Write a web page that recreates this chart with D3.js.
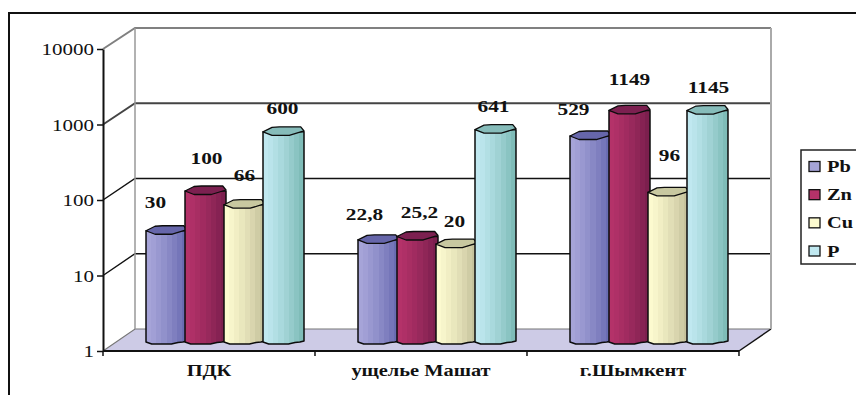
<!DOCTYPE html>
<html>
<head>
<meta charset="utf-8">
<script src="https://cdn.jsdelivr.net/npm/d3@7"></script>
<style>
html,body{margin:0;padding:0;background:#fff;overflow:hidden}
svg{display:block}
text{font-family:"Liberation Serif",serif;fill:#111}
</style>
</head>
<body>
<svg id="chart" width="856" height="395"></svg>
<script>
// Metal concentrations by site, logarithmic axis
const categories = ["ПДК", "ущелье Машат", "г.Шымкент"];
const seriesNames = ["Pb", "Zn", "Cu", "P"];
const Pb = [30, 22.8, 529];
const Zn = [100, 25.2, 1149];
const Cu = [66, 20, 96];
const P = [600, 641, 1145];
const valueLabels = [["30", "22,8", "529"], ["100", "25,2", "1149"], ["66", "20", "96"], ["600", "641", "1145"]];
const axisTicks = [1, 10, 100, 1000, 10000];

// Light and dark ends of each cylinder's shading, plus the lid colour
const shades = [["#a6a4d8", "#6a6cb2", "#6666aa"], ["#b43269", "#7c1f4e", "#7c2050"], ["#fcfacf", "#c6c29c", "#c8c8a0"], ["#c0e8f0", "#7fbcb8", "#86bcba"]];
// Data labels sit off the bar centre, in pixels from the lid: series by site
const labelNudge = [
  [[-11, -29], [-14, -26], [-17, -27]],
  [[1, -33], [2, -24], [0, -31]],
  [[0, -30], [-2, -23], [1, -37]],
  [[-1, -24], [-2, -24], [1, -24]]
];

const values = [Pb, Zn, Cu, P];
const svg = d3.select("#chart");
const defs = svg.append("defs");

// Chart geometry: front plane, and the wall set back by the depth offset
const frontLeft = 103, frontRight = 739, frontBottom = 351, frontTop = 49;
const depthX = 32, depthY = 22;
const y = d3.scaleLog().domain([1, 10000]).range([frontBottom, frontTop]);
const yBack = d3.scaleLog().domain([1, 10000]).range([frontBottom - depthY, frontTop - depthY + 1]);
const yBar = d3.scaleLog().domain([1, 10000]).range([343, 39]);
const x0 = d3.scaleBand().domain(categories).range([frontLeft, frontRight]).paddingInner(0.2547).paddingOuter(0.1274);
const x1 = d3.scaleBand().domain(seriesNames).range([0, x0.bandwidth() - 2]);
const barShift = 16;

// Outer frame, open on the right and at the bottom
svg.append("path").attr("d", "M9,395V13H856").attr("fill", "none").attr("stroke", "#111").attr("stroke-width", 2);

// Floor: grey back and left edges, dark right edge
const floorBL = [frontLeft, frontBottom], floorTL = [frontLeft + depthX, frontBottom - depthY];
const floorTR = [frontRight + depthX, frontBottom - depthY], floorBR = [frontRight, frontBottom];
svg.append("path").attr("d", d3.line()([floorBL, floorTL, floorTR, floorBR]) + "Z").attr("fill", "#cdcbe6");
svg.append("path").attr("d", d3.line()([floorBL, floorTL, floorTR])).attr("fill", "none").attr("stroke", "#777").attr("stroke-width", 1.2);
svg.append("path").attr("d", d3.line()([floorTR, floorBR])).attr("fill", "none").attr("stroke", "#111").attr("stroke-width", 1.5);

// Back wall gridlines with their slanted returns on the side wall
const gridColour = d => d === 10000 ? "#808080" : d === 1000 ? "#444" : "#111";
const grid = svg.append("g").attr("fill", "none");
grid.selectAll("path").data(axisTicks.slice(1)).join("path")
  .attr("d", d => d3.line()([[frontLeft, y(d)], [frontLeft + depthX, yBack(d)], [frontRight + depthX, yBack(d)]]))
  .attr("stroke", gridColour)
  .attr("stroke-width", d => d >= 1000 ? 2 : 1.5);
grid.append("path").attr("d", `M${frontLeft + depthX},${yBack(10000)}V${yBack(1)}`).attr("stroke", "#999").attr("stroke-width", 1.5);
grid.append("path").attr("d", `M${frontRight + depthX},${yBack(10000)}V${yBack(1)}`).attr("stroke", "#aaa").attr("stroke-width", 2);

// Stepped shading for the cylinders
seriesNames.forEach((name, i) => {
  const mix = d3.interpolateRgb(shades[i][0], shades[i][1]);
  const g = defs.append("linearGradient").attr("id", "shade-" + name);
  const steps = 8;
  d3.range(steps).forEach(s => {
    const c = mix(Math.pow(s / (steps - 1), 1.25));
    g.append("stop").attr("offset", s / steps).attr("stop-color", c);
    g.append("stop").attr("offset", (s + 1) / steps).attr("stop-color", c);
  });
});

const outline = "#0c0c0c";
const bars = svg.append("g");
categories.forEach((cat, c) => {
  seriesNames.forEach((name, s) => {
    const left = x0(cat) + barShift + x1(name);
    const w = x1.bandwidth() + 2;
    const top = yBar(values[s][c]);
    const base = yBar(1);
    const at = (fx, dy) => [left + fx * w, dy];
    // Faceted outline of the cylinder body, scalloped along the base
    const body = d3.line()([
      at(0, top), at(0, base - 1), at(0.14, base + 1), at(0.62, base + 1),
      at(0.78, base - 0.5), at(0.9, base - 1), at(1, base - 2), at(1, top)
    ]);
    const lid = d3.line()([
      at(0, top), at(0.22, top - 4.5), at(0.4, top - 5), at(0.92, top - 5), at(1, top - 1),
      at(0.64, top + 3.5), at(0.22, top + 3.5)
    ]) + "Z";
    bars.append("path").attr("d", body + "Z").attr("fill", `url(#shade-${name})`).attr("stroke", outline).attr("stroke-width", 1.5).attr("stroke-linejoin", "round");
    bars.append("path").attr("d", lid).attr("fill", shades[s][2]).attr("stroke", outline).attr("stroke-width", 1.3).attr("stroke-linejoin", "round");
  });
});

// Value axis
const yAxis = d3.axisLeft(y).tickValues(axisTicks).tickFormat(d3.format("d")).tickSize(6).tickSizeOuter(0);
const yG = svg.append("g").attr("transform", `translate(${frontLeft},0)`).call(yAxis);
yG.select(".domain").attr("stroke", "#111").attr("stroke-width", 2);
yG.selectAll(".tick line").attr("stroke", "#111").attr("stroke-width", 1.5);
yG.selectAll(".tick text").attr("x", 0).attr("dy", "0.34em").attr("font-size", 17.5).attr("font-family", null)
  .attr("transform", "translate(-9,0) scale(1.2,1)");

// Category axis along the front edge of the floor
svg.append("line").attr("x1", frontLeft).attr("x2", frontRight).attr("y1", frontBottom).attr("y2", frontBottom).attr("stroke", "#111").attr("stroke-width", 2);
svg.selectAll(".cat-tick").data(d3.range(categories.length + 1)).join("line").attr("class", "cat-tick")
  .attr("x1", i => frontLeft + i * x0.step()).attr("x2", i => frontLeft + i * x0.step())
  .attr("y1", frontBottom).attr("y2", frontBottom + 5).attr("stroke", "#111").attr("stroke-width", 1.5);
svg.selectAll(".cat-label").data(categories).join("text").attr("class", "cat-label")
  .attr("transform", d => `translate(${x0(d) + x0.bandwidth() / 2},376) scale(1.2,1)`)
  .attr("text-anchor", "middle").attr("font-weight", "bold").attr("font-size", 17).text(d => d);

// Value labels over the bars
categories.forEach((cat, c) => {
  seriesNames.forEach((name, s) => {
    const cx = x0(cat) + barShift + x1(name) + (x1.bandwidth() + 2) / 2;
    const top = yBar(values[s][c]);
    const [dx, dy] = labelNudge[s][c];
    svg.append("text")
      .attr("transform", `translate(${cx + dx},${top + dy + 6}) scale(1.22,1)`)
      .attr("text-anchor", "middle").attr("font-weight", "bold").attr("font-size", 17.5)
      .text(valueLabels[s][c]);
  });
});

// Legend, running off the right edge of the frame
const legend = svg.append("g");
legend.append("rect").attr("x", 801).attr("y", 150).attr("width", 70).attr("height", 114).attr("fill", "#fff").attr("stroke", "#222").attr("stroke-width", 1.5);
const legendY = d3.scalePoint().domain(seriesNames).range([166.5, 251]);
seriesNames.forEach((name, i) => {
  legend.append("rect").attr("x", 809).attr("y", legendY(name) - 5).attr("width", 11).attr("height", 10)
    .attr("fill", shades[i][0]).attr("stroke", "#111").attr("stroke-width", 1.3);
  legend.append("text").attr("transform", `translate(827,${legendY(name) + 5.5}) scale(1.2,1)`)
    .attr("font-weight", "bold").attr("font-size", 17).text(name);
});
</script>
</body>
</html>
